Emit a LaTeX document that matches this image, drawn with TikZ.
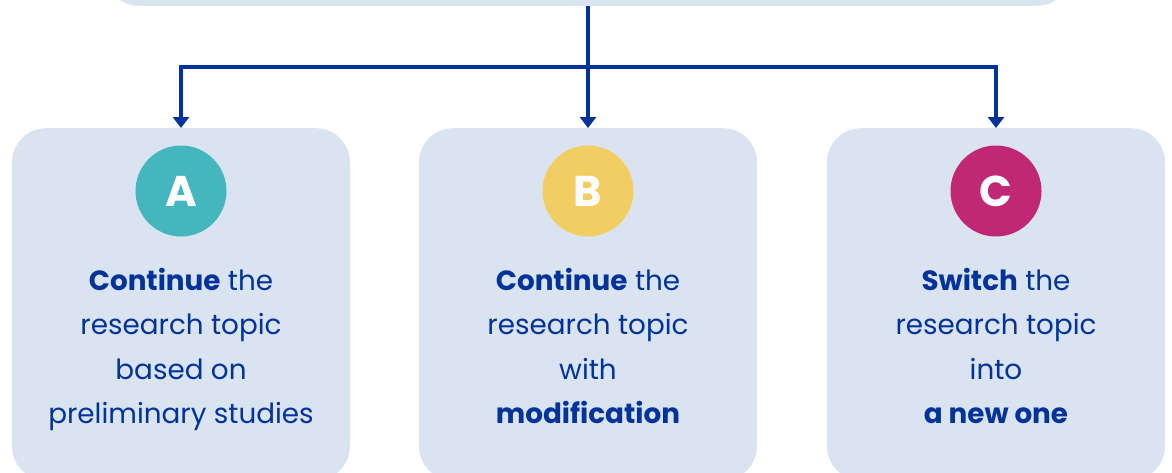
\documentclass[tikz,border=0pt]{standalone}
\usepackage{fontspec}
\setmainfont{Poppins}
\usetikzlibrary{arrows.meta}

\definecolor{panelfill}{RGB}{218,227,240}
\definecolor{inkblue}{RGB}{0,51,153}
\definecolor{badgeteal}{RGB}{69,181,190}
\definecolor{badgeyellow}{RGB}{242,206,98}
\definecolor{badgepink}{RGB}{192,40,118}

\tikzset{
    panel/.style={rounded corners=34pt, fill=panelfill, draw=none,
        minimum width=338pt, minimum height=352pt, anchor=north},
    badge/.style={circle, minimum size=91pt, inner sep=0pt, text=white,
        font=\fontsize{43}{43}\selectfont\bfseries},
    blurb/.style={align=center, inner sep=0pt, text=inkblue, anchor=north,
        font=\fontsize{27.8}{44.3}\selectfont},
    link/.style={draw=inkblue, line width=3.3pt},
    arrow/.style={link, -{Triangle[width=16pt,length=11pt]}}
}

\begin{document}
\begin{tikzpicture}[x=1pt, y=-1pt]
        \useasboundingbox (0,0) rectangle (1172,472);
        \clip (0,0) rectangle (1172,472);

        % top box, mostly cut off
        \node [panel, minimum width=966pt, minimum height=80pt, anchor=south] (top) at (588,6) {};

        % the three options
        \node [panel] (pa) at (181,128) {};
        \node [panel] (pb) at (588,128) {};
        \node [panel] (pc) at (996,128) {};

        \node [badge, fill=badgeteal] (ba) at (181,191) {A};
        \node [badge, fill=badgeyellow] (bb) at (588,191) {B};
        \node [badge, fill=badgepink] (bc) at (996,191) {C};

        \node [blurb] (ta) at (181,268) {\textbf{Continue} the\\research topic\\based on\\preliminary studies};
        \node [blurb] (tb) at (588,268) {\textbf{Continue} the\\research topic\\with\\\textbf{modification}};
        \node [blurb] (tc) at (996,268) {\textbf{Switch} the\\research topic\\into\\\textbf{a new one}};

        % connectors
        \coordinate (hub) at (588,67);
        \draw [link] (top.south) -- (hub);
        \draw [arrow] (hub) -| (pa.north);
        \draw [arrow] (hub) -- (pb.north);
        \draw [arrow] (hub) -| (pc.north);
    \end{tikzpicture}
\end{document}
